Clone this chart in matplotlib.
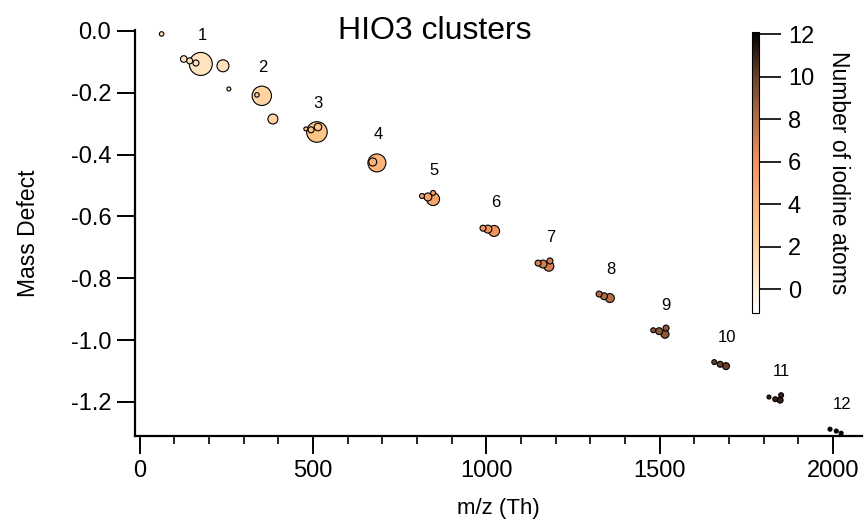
import numpy as np
import matplotlib
matplotlib.use("Agg")
import matplotlib.pyplot as plt
from matplotlib.colors import LinearSegmentedColormap, Normalize

# ---- data ----
mz = [63, 127, 144, 162, 176, 240, 257,
      352, 338, 384,
      511, 479, 494, 514,
      684, 672,
      846, 831, 814, 846,
      1022, 1004, 990,
      1180, 1163, 1149, 1183,
      1356, 1339, 1325,
      1515, 1498, 1481, 1518,
      1691, 1674, 1657,
      1847, 1833, 1815, 1850,
      2023, 2009, 1991]
mass_defect = [-0.010, -0.091, -0.097, -0.104, -0.107, -0.113, -0.188,
               -0.210, -0.207, -0.285,
               -0.327, -0.317, -0.320, -0.311,
               -0.427, -0.424,
               -0.544, -0.537, -0.534, -0.524,
               -0.647, -0.641, -0.638,
               -0.761, -0.754, -0.751, -0.744,
               -0.864, -0.858, -0.851,
               -0.981, -0.971, -0.968, -0.961,
               -1.084, -1.078, -1.071,
               -1.194, -1.191, -1.184, -1.178,
               -1.301, -1.294, -1.288]
n_iodine = [1, 1, 1, 1, 1, 1, 1,
            2, 2, 2,
            3, 3, 3, 3,
            4, 4,
            5, 5, 5, 5,
            6, 6, 6,
            7, 7, 7, 7,
            8, 8, 8,
            9, 9, 9, 9,
            10, 10, 10,
            11, 11, 11, 11,
            12, 12, 12]
# relative signal (bubble area, arb. units)
signal = [5, 11, 9, 9, 132, 36, 4,
          94, 5, 25,
          106, 4, 9, 14,
          81, 16,
          42, 16, 6, 6,
          30, 16, 9,
          25, 16, 9, 9,
          20, 12, 9,
          16, 12, 6, 9,
          12, 9, 6,
          9, 6, 4, 6,
          4, 4, 4]
clusters = list(range(1, 13))

cmap = LinearSegmentedColormap.from_list("iodine", [
    (0.00, "#ffffff"),
    (0.16, "#ffe2bd"),
    (0.31, "#ffc487"),
    (0.53, "#f5955e"),
    (0.69, "#b56f47"),
    (0.84, "#6b4129"),
    (1.00, "#000000"),
])
norm = Normalize(vmin=-1.1, vmax=12.1)

plt.rcParams["font.family"] = ["Liberation Sans", "DejaVu Sans"]

fig = plt.figure(figsize=(8.64, 5.25), dpi=100)
ax = fig.add_axes([0.156, 0.1695, 0.842, 0.7735])

mz_a = np.array(mz, float)
md_a = np.array(mass_defect, float)
ni_a = np.array(n_iodine, float)
sig_a = np.array(signal, float)
order = np.argsort(-sig_a)  # big bubbles underneath
ax.scatter(mz_a[order], md_a[order], s=sig_a[order] * 2.07, c=ni_a[order],
           cmap=cmap, norm=norm, edgecolors="black", linewidths=0.8, zorder=3)

# cluster numbers above the biggest peak of each cluster
for n in clusters:
    idx = np.where(ni_a == n)[0]
    k = idx[np.argmax(sig_a[idx])]
    ax.text(mz_a[k] + 4, md_a[k] + 0.093, str(n), ha="center", va="center",
            fontsize=12)

ax.set_xlim(-14.4, 2084)
ax.set_ylim(-1.31, 0.003)
ax.set_xticks([0, 500, 1000, 1500, 2000])
ax.set_xticks(np.arange(100, 2001, 100), minor=True)
ax.set_yticks([0.0, -0.2, -0.4, -0.6, -0.8, -1.0, -1.2])
ax.set_yticklabels(["0.0", "-0.2", "-0.4", "-0.6", "-0.8", "-1.0", "-1.2"])
for s in ["top", "right"]:
    ax.spines[s].set_visible(False)
for s in ["left", "bottom"]:
    ax.spines[s].set_linewidth(1.6)
ax.tick_params(axis="both", which="major", direction="out", length=13, width=1.4,
               labelsize=17, pad=4)
ax.tick_params(axis="x", which="minor", direction="out", length=6, width=1.2)
ax.set_xlabel("m/z (Th)", fontsize=16, labelpad=12)
ax.set_ylabel("Mass Defect", fontsize=16.5, labelpad=22)
fig.text(0.503, 0.941, "HIO3 clusters", ha="center", va="center", fontsize=23)

cax = fig.add_axes([0.870, 0.404, 0.0081, 0.535])
cb = fig.colorbar(matplotlib.cm.ScalarMappable(norm=norm, cmap=cmap), cax=cax)
cb.set_ticks([0, 2, 4, 6, 8, 10, 12])
cb.outline.set_linewidth(0.8)
cax.tick_params(direction="out", length=16, width=1.2, labelsize=17, pad=5)
cb.set_label("Number of iodine atoms", rotation=-90, fontsize=16.5, labelpad=26)

fig.savefig("out.png", dpi=100)
